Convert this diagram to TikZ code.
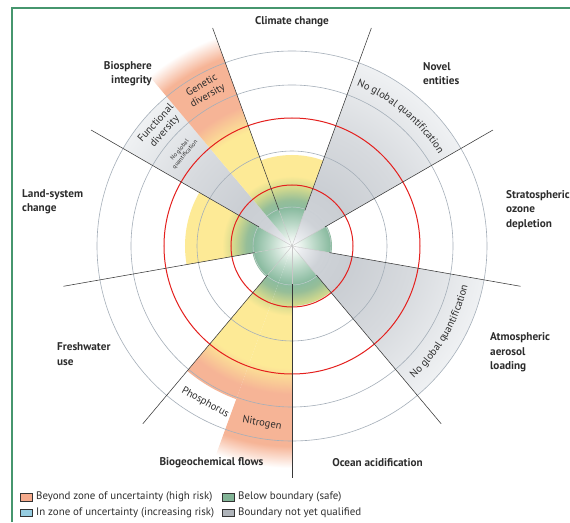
\documentclass[tikz,border=0pt]{standalone}
\usepackage{fontspec}
\setmainfont{PT Sans}
\usetikzlibrary{decorations.text}

\definecolor{frameg}{RGB}{70,150,110}
\definecolor{g1}{RGB}{232,242,236}
\definecolor{g2}{RGB}{185,215,198}
\definecolor{g3}{RGB}{138,187,160}
\definecolor{g4}{RGB}{150,190,152}
\definecolor{ol}{RGB}{208,216,142}
\definecolor{yel}{RGB}{253,234,150}
\definecolor{ora}{RGB}{246,180,150}
\definecolor{gr1}{RGB}{234,236,239}
\definecolor{gr2}{RGB}{206,210,215}
\definecolor{gr3}{RGB}{202,206,211}
\definecolor{gr4}{RGB}{215,218,222}
\definecolor{gr5}{RGB}{239,241,243}
\definecolor{ringc}{RGB}{165,175,185}
\definecolor{redc}{RGB}{228,32,30}
\definecolor{txt}{RGB}{45,45,45}
\definecolor{legora}{RGB}{245,170,140}
\definecolor{legblue}{RGB}{150,205,225}
\definecolor{leggreen}{RGB}{130,180,150}
\definecolor{leggray}{RGB}{175,180,186}

\pgfdeclareradialshading{sgrad}{\pgfpoint{0bp}{0bp}}{color(0bp)=(white); color(0.9bp)=(g1); color(2.3bp)=(g2); color(3.8bp)=(g3); color(4.6bp)=(g4); color(5.8bp)=(ol); color(7bp)=(yel); color(12.2bp)=(yel); color(14.8bp)=(ora); color(20bp)=(ora); color(22.2bp)=(white); color(50bp)=(white)}
\pgfdeclareradialshading{ggrad}{\pgfpoint{0bp}{0bp}}{color(0bp)=(white); color(1bp)=(gr1); color(3bp)=(gr2); color(6bp)=(gr3); color(12bp)=(gr4); color(19.5bp)=(gr5); color(50bp)=(gr5)}

\def\mysector#1#2#3#4{\begin{scope}\clip (0,0) -- (#1:#3) arc[start angle=#1, end angle=#2, radius=#3] -- cycle; \shade[shading=#4] (0,0) circle[radius=250]; \end{scope}}

\begin{document}
\begin{tikzpicture}[x=1pt,y=1pt,
  lab/.style={font=\fontsize{11.2}{14.5}\selectfont\bfseries, text=txt, inner sep=0pt},
  arct/.style={font=\fontsize{10.5}{12}\selectfont, text=txt, inner sep=0pt, align=center},
  ring/.style={draw=ringc, line width=0.6pt},
  redring/.style={draw=redc, line width=1pt},
  divider/.style={draw=black!78, line width=0.55pt},
  legbox/.style={draw=black!80, line width=0.6pt, minimum width=12pt, minimum height=7.5pt, inner sep=0pt},
  legtext/.style={font=\fontsize{10.9}{12}\selectfont, text=txt, inner sep=0pt, anchor=west}]

\useasboundingbox (-292,-276) rectangle (278,246);
\fill[white] (-292,-276) rectangle (278,246);

% sectors
\mysector{70}{110}{91}{sgrad}
\mysector{30}{70}{195}{ggrad}
\mysector{-10}{30}{40}{sgrad}
\mysector{-50}{-10}{195}{ggrad}
\mysector{-90}{-50}{60}{sgrad}
\mysector{-110}{-90}{222}{sgrad}
\mysector{-130}{-110}{163}{sgrad}
\mysector{190}{230}{40}{sgrad}
\mysector{150}{190}{107}{sgrad}
\mysector{130}{150}{195}{ggrad}
\mysector{110}{130}{225}{sgrad}

% rings
\draw[ring, draw=ringc!60, line width=0.4pt] (0,0) circle[radius=39];
\draw[ring] (0,0) circle[radius=95];
\draw[ring] (0,0) circle[radius=161];
\draw[ring] (0,0) circle[radius=195];
\draw[redring] (0,0) circle[radius=61];
\draw[redring] (0,0) circle[radius=128];

% dividers
\foreach \a in {110,70,30,-10,-50,-90,-130,190,150}{
  \draw[black!22, line width=0.4pt] (0,0) -- (\a:38);
  \draw[divider] (\a:38) -- (\a:232);
}

% arc texts
\path[decorate, decoration={text along path, text align=center,
  text={|\fontsize{10.5}{12}\selectfont\color{txt}|No global quantification}}]
  (70:173) arc[start angle=70, end angle=30, radius=173];
\path[decorate, decoration={text along path, text align=center,
  text={|\fontsize{10.5}{12}\selectfont\color{txt}|No global quantification}}]
  (-50:180) arc[start angle=-50, end angle=-10, radius=180];

% rotated texts
\node[arct, rotate=29.3] (gd) at (119.3:178) {Genetic\\diversity};
\node[arct, rotate=48] (fd) at (138:177) {Functional\\diversity};
\node[arct, rotate=50, font=\fontsize{6}{7}\selectfont] (ng) at (139.5:144) {No global\\quantification};
\node[arct, rotate=-29] (ph) at (-119:179) {Phosphorus};
\node[arct, rotate=-9.6] (ni) at (-99.6:180) {Nitrogen};

% labels
\node[lab] (cc) at (0,224) {Climate change};
\node[lab, align=left, anchor=west] (ne) at (131,172.5) {Novel\\entities};
\node[lab, align=left, anchor=west] (so) at (214,36.3) {Stratospheric\\ozone\\depletion};
\node[lab, align=left, anchor=west] (aa) at (198,-106.7) {Atmospheric\\aerosol\\loading};
\node[lab] (oa) at (85.5,-217) {Ocean acidification};
\node[lab] (bf) at (-80.5,-217) {Biogeochemical flows};
\node[lab, align=left, anchor=west] (fw) at (-235,-108) {Freshwater\\use};
\node[lab, align=left, anchor=west] (ls) at (-270,44) {Land-system\\change};
\node[lab, align=right, anchor=east] (bi) at (-140,172.5) {Biosphere\\integrity};

% legend
\node[legbox, fill=legora] (l1) at (-265.3,-251.3) {};
\node[legtext] (t1) at (-256,-251.3) {Beyond zone of uncertainty (high risk)};
\node[legbox, fill=legblue] (l2) at (-265.3,-266.7) {};
\node[legtext] (t2) at (-256,-266.7) {In zone of uncertainty (increasing risk)};
\node[legbox, fill=leggreen] (l3) at (-63.3,-251.3) {};
\node[legtext] (t3) at (-54,-251.3) {Below boundary (safe)};
\node[legbox, fill=leggray] (l4) at (-63.3,-266.7) {};
\node[legtext] (t4) at (-54,-266.7) {Boundary not yet qualified};

% frame
\draw[frameg, line width=1.2pt] (-280,-276) -- (-280,238) -- (278,238);
\end{tikzpicture}
\end{document}
